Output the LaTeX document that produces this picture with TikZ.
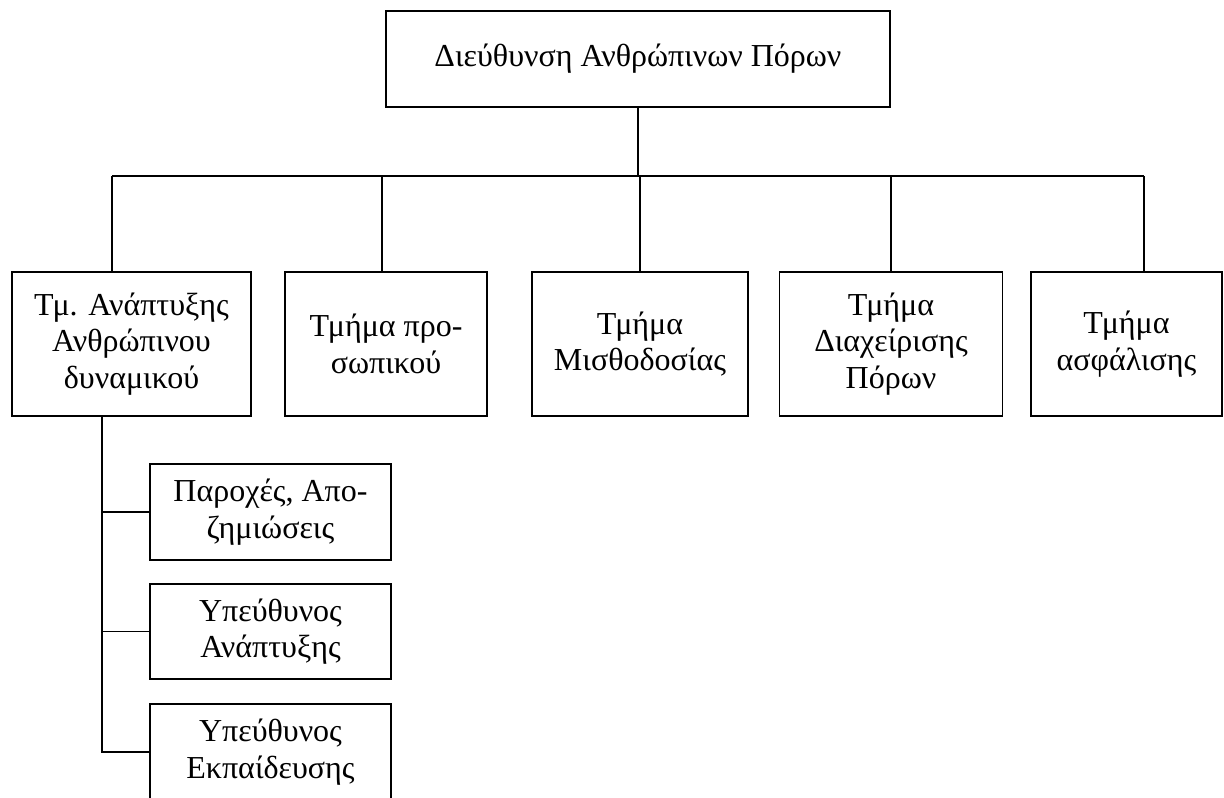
\documentclass[tikz,border=0pt]{standalone}
\usepackage{fontspec}
\setmainfont{Liberation Serif}
\tikzset{
  box/.style={draw, line width=1.2pt, inner sep=0pt, align=center,
    font=\fontsize{32}{36.5}\selectfont},
  conn/.style={line width=1.2pt}
}
\begin{document}
\begin{tikzpicture}[x=1pt,y=-1pt]
\useasboundingbox (0,0) rectangle (1224,798);
% top
\node[box, minimum width=504pt, minimum height=96pt] (top) at (638,59) {Διεύθυνση Ανθρώπινων Πόρων};
% row
\node[box, minimum width=239pt, minimum height=144pt] (b1) at (131.5,344) {Τμ. Ανάπτυξης\\Ανθρώπινου\\δυναμικού};
\node[box, minimum width=202pt, minimum height=144pt] (b2) at (386,344) {Τμήμα προ-\\σωπικού};
\node[box, minimum width=216pt, minimum height=144pt] (b3) at (640,344) {Τμήμα\\Μισθοδοσίας};
\node[box, minimum width=223pt, minimum height=144pt] (b4) at (891,344) {Τμήμα\\Διαχείρισης\\Πόρων};
\node[box, minimum width=191pt, minimum height=144pt] (b5) at (1126.5,344) {Τμήμα\\ασφάλισης};
% sub boxes
\node[box, minimum width=241pt, minimum height=96pt] (s1) at (270.5,512) {Παροχές, Απο-\\ζημιώσεις};
\node[box, minimum width=241pt, minimum height=95pt] (s2) at (270.5,631.5) {Υπεύθυνος\\Ανάπτυξης};
\node[box, minimum width=241pt, minimum height=96pt] (s3) at (270.5,752) {Υπεύθυνος\\Εκπαίδευσης};
% connectors
\coordinate (busL) at (112,176);
\coordinate (busR) at (1144,176);
\coordinate (d2) at (382,176);
\coordinate (sv) at (102,416);
\draw[conn] (top.south) -- (top.south |- busL);
\draw[conn] (busL) -- (busR);
\draw[conn] (busL) -- (busL |- b1.north);
\draw[conn] (d2) -- (d2 |- b2.north);
\draw[conn] (b3.north |- busL) -- (b3.north);
\draw[conn] (b4.north |- busL) -- (b4.north);
\draw[conn] (busR) -- (busR |- b5.north);
\draw[conn] (sv) -- (sv |- s3.west) -- (s3.west);
\draw[conn] (sv |- s1.west) -- (s1.west);
\draw[conn] (sv |- s2.west) -- (s2.west);
\end{tikzpicture}
\end{document}
